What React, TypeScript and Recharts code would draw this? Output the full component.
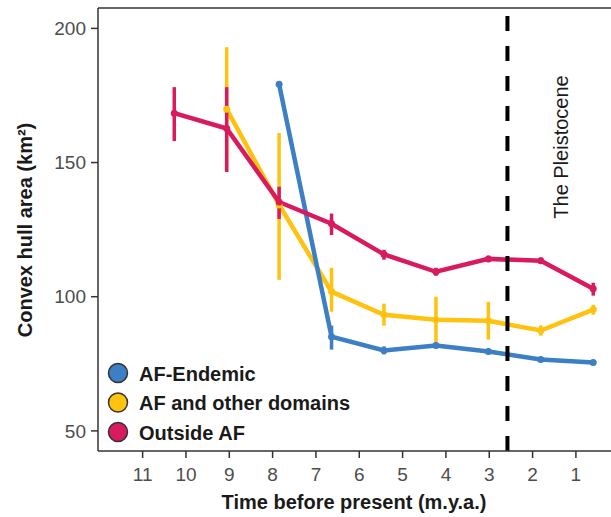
import React from "react";
import {ComposedChart, Line, XAxis, YAxis, ErrorBar, ReferenceLine, Label} from "recharts";

const FONT = "'Liberation Sans', Arial, Helvetica, sans-serif";

// time bins (m.y.a.)
const TIMES = [10.27, 9.06, 7.85, 6.64, 5.43, 4.23, 3.02, 1.81, 0.6];

// AF-Endemic (starts at 7.85)
const endemicMean = [179.2, 85.1, 80.0, 81.8, 79.6, 76.6, 75.5];
const endemicLow = [178.4, 80.3, 78.5, 80.8, 78.6, 75.8, 74.8];
const endemicHigh = [180.0, 89.2, 81.5, 82.8, 80.6, 77.4, 76.2];

// AF and other domains (starts at 9.06)
const otherMean = [169.9, 134.2, 101.9, 93.3, 91.4, 91.0, 87.4, 95.2];
const otherLow = [146.5, 106.3, 94.4, 89.2, 82.5, 84.0, 85.5, 93.3];
const otherHigh = [193.0, 161.0, 110.8, 97.4, 100.0, 98.1, 89.3, 97.0];

// Outside AF (starts at 10.27)
const outsideMean = [168.4, 162.7, 135.3, 127.2, 115.8, 109.3, 114.1, 113.4, 103.0];
const outsideLow = [158.0, 146.5, 129.0, 123.0, 113.8, 107.8, 112.9, 112.2, 100.4];
const outsideHigh = [178.1, 178.1, 141.0, 131.0, 117.5, 110.8, 115.3, 114.6, 105.2];

const X_TICKS = [11, 10, 9, 8, 7, 6, 5, 4, 3, 2, 1];
const Y_TICKS = [50, 100, 150, 200];
const PLEISTOCENE = 2.58;

const SERIES = [
    {name: "AF-Endemic", color: "#3C7FC4"},
    {name: "AF and other domains", color: "#FFC20F"},
    {name: "Outside AF", color: "#D81B5E"},
];

const build = (mean: number[], low: number[], high: number[]) => {
    const times = TIMES.slice(TIMES.length - mean.length);
    return mean.map((m, i) => ({t: times[i], v: m, err: [m - low[i], high[i] - m]}));
};

const endemicData = build(endemicMean, endemicLow, endemicHigh);
const otherData = build(otherMean, otherLow, otherHigh);
const outsideData = build(outsideMean, outsideLow, outsideHigh);

// legend drawn as an overlay so it does not take room from the plot
const LegendBox = () => (
    <svg width={280} height={95} style={{position: "absolute", left: 107, top: 361}}>
        {SERIES.map((s, i) => (
            <g key={s.name}>
                <circle cx={11} cy={12 + i * 29.5} r={9.5} fill={s.color} stroke="#333" strokeWidth={1.5}/>
                <text x={32} y={19.5 + i * 29.5} fontFamily={FONT} fontWeight="bold" fontSize={20} fill="#1a1a1a">
                    {s.name}
                </text>
            </g>
        ))}
    </svg>
);

const series = (data: any[], color: string, key: string) => (
    <Line
        key={key}
        data={data}
        dataKey="v"
        stroke={color}
        strokeWidth={4.5}
        dot={{r: 3.5, fill: color, stroke: color, strokeWidth: 0}}
        activeDot={false}
        isAnimationActive={false}
        legendType="none"
    >
        <ErrorBar dataKey="err" direction="y" width={0} stroke={color} strokeWidth={3.5} isAnimationActive={false}/>
    </Line>
);

export default function App() {
    const tickStyle = {fontFamily: FONT, fontSize: 19, fill: "#4D4D4D"};
    return (
        <div style={{position: "absolute", left: 0, top: 0, width: 611, height: 517, background: "#fff"}}>
            <ComposedChart width={611} height={517} margin={{top: 8, right: 0, left: 0, bottom: 0}}>
                <XAxis
                    type="number"
                    dataKey="t"
                    domain={[0.19, 12.03]}
                    reversed
                    allowDataOverflow
                    ticks={X_TICKS}
                    height={66}
                    tick={tickStyle}
                    tickSize={7}
                    tickMargin={10}
                    axisLine={{stroke: "#333", strokeWidth: 1.5}}
                    tickLine={{stroke: "#333", strokeWidth: 1.5}}
                >
                    <Label
                        content={() => (
                            <text x={354} y={509} textAnchor="middle" fontFamily={FONT} fontWeight="bold" fontSize={20} fill="#1a1a1a">
                                Time before present (m.y.a.)
                            </text>
                        )}
                    />
                </XAxis>
                <YAxis
                    type="number"
                    domain={[42.5, 207.6]}
                    allowDataOverflow
                    ticks={Y_TICKS}
                    width={98}
                    tick={tickStyle}
                    tickSize={7}
                    tickMargin={5}
                    axisLine={{stroke: "#333", strokeWidth: 1.5}}
                    tickLine={{stroke: "#333", strokeWidth: 1.5}}
                >
                    <Label
                        content={() => (
                            <text transform="translate(32,230) rotate(-90)" textAnchor="middle" fontFamily={FONT} fontWeight="bold" fontSize={20} fill="#1a1a1a">
                                Convex hull area (km²)
                            </text>
                        )}
                    />
                </YAxis>
                <ReferenceLine y={207.6} stroke="#333" strokeWidth={1.5}/>
                {series(otherData, SERIES[1].color, "other")}
                {series(endemicData, SERIES[0].color, "endemic")}
                {series(outsideData, SERIES[2].color, "outside")}
                <ReferenceLine
                    x={PLEISTOCENE}
                    stroke="#000"
                    strokeWidth={4}
                    strokeDasharray="15 15"
                    label={(props: any) => (
                        <text
                            transform={`translate(${props.viewBox.x + 61},147) rotate(-90)`}
                            textAnchor="middle"
                            fontFamily={FONT}
                            fontSize={20}
                            fill="#1a1a1a"
                        >
                            The Pleistocene
                        </text>
                    )}
                />
            </ComposedChart>
            <LegendBox/>
        </div>
    );
}
